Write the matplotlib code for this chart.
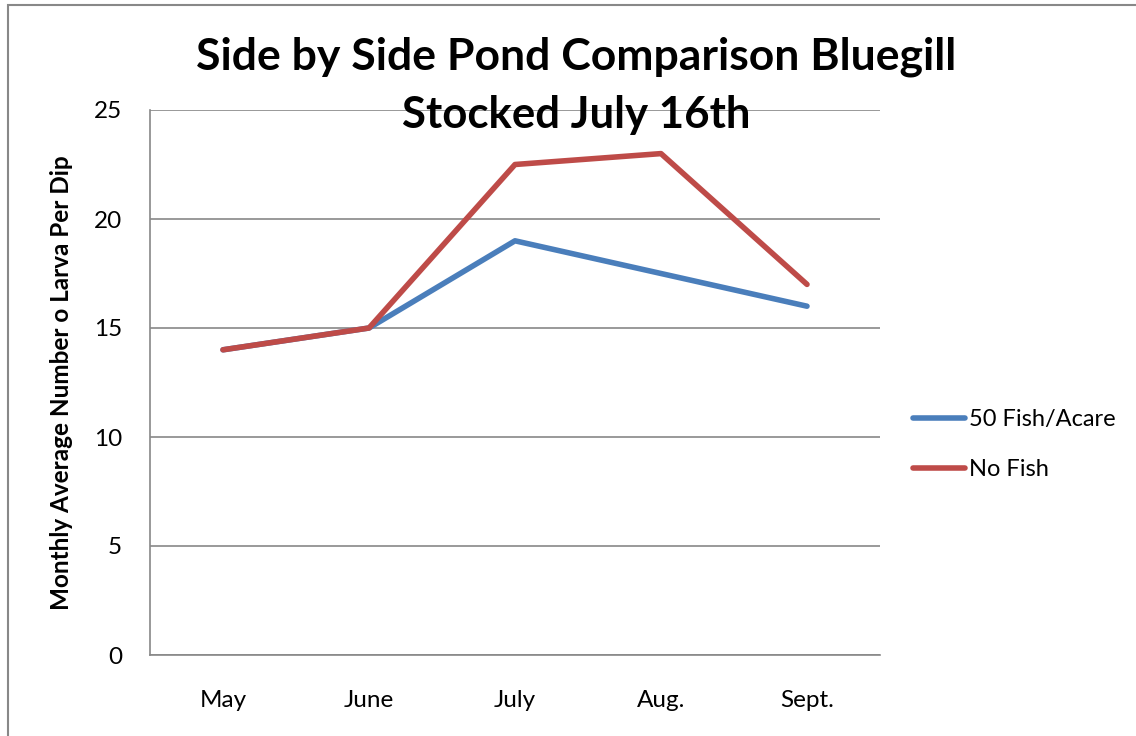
import matplotlib
matplotlib.use("Agg")
import matplotlib.pyplot as plt
from matplotlib.patches import Rectangle

plt.rcParams["font.family"] = ["Lato", "DejaVu Sans"]

# donnees
months = ["May", "June", "July", "Aug.", "Sept."]
fish_50 = [14, 15, 19, 17.5, 16]
no_fish = [14, 15, 22.5, 23, 17]
yticks = [0, 5, 10, 15, 20, 25]

BLUE = "#4a7ebb"
RED = "#be4b48"
GRID = "#888888"

W, H = 1136, 736
fig = plt.figure(figsize=(W / 100, H / 100), dpi=100)
ax = fig.add_axes([150 / W, 1 - 655 / H, 730 / W, 545 / H])

x = list(range(len(months)))
ax.plot(x, fish_50, color=BLUE, lw=4, solid_capstyle="round",
        solid_joinstyle="round", label="50 Fish/Acare")
ax.plot(x, no_fish, color=RED, lw=4, solid_capstyle="round",
        solid_joinstyle="round", label="No Fish")

ax.set_xlim(-0.5, len(months) - 0.5)
ax.set_ylim(0, 25)
ax.set_yticks(yticks)
ax.set_xticks(x)
ax.set_xticklabels(months)
ax.tick_params(length=0, labelsize=17.5, colors="black")
ax.tick_params(axis="y", pad=20)
ax.tick_params(axis="x", pad=25)
ax.yaxis.grid(True, color=GRID, lw=1.2)
ax.set_axisbelow(True)
for s in ("top", "right"):
    ax.spines[s].set_visible(False)
for s in ("left", "bottom"):
    ax.spines[s].set_color(GRID)
    ax.spines[s].set_linewidth(1.2)

fig.text(62 / W, 1 - 383 / H, "Monthly Average Number o Larva Per Dip",
         rotation=90, ha="center", va="center", fontsize=17.5, fontweight="bold")

fig.text(576 / W, 1 - 57 / H, "Side by Side Pond Comparison Bluegill",
         ha="center", va="center", fontsize=32, fontweight="bold")
fig.text(576 / W, 1 - 115 / H, "Stocked July 16th",
         ha="center", va="center", fontsize=31.5, fontweight="bold")

leg = ax.legend(loc="upper left", bbox_to_anchor=(904 / W, 1 - 400 / H),
                bbox_transform=fig.transFigure, frameon=False, fontsize=17,
                handlelength=2.2, handletextpad=0.15, labelspacing=1.2,
                borderaxespad=0)

fig.patches.append(Rectangle((8 / W, -0.1), 1.2, 1 - 5 / H + 0.1,
                             transform=fig.transFigure, fill=False,
                             edgecolor=GRID, lw=1.5))

fig.savefig("out.png", dpi=100)
